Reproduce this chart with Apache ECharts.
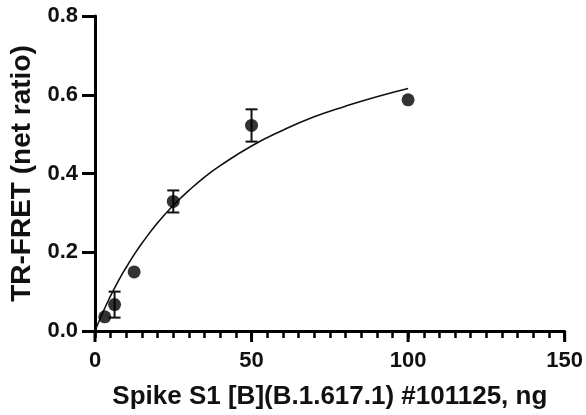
<!DOCTYPE html>
<html>
<head>
<meta charset="utf-8">
<script src="https://cdn.jsdelivr.net/npm/echarts@6/dist/echarts.min.js"></script>
<style>html,body{margin:0;padding:0;background:#fff}#c{width:586px;height:415px}</style>
</head>
<body>
<div id="c"></div>
<script>
// Measured points (mean, SD)
var doseX = [3.125, 6.25, 12.5, 25, 50, 100];
var meanY = [0.036, 0.067, 0.150, 0.329, 0.522, 0.587];
var errY  = [0.000, 0.033, 0.000, 0.028, 0.041, 0.000];
// Fitted curve
var curveX = [0, 2, 4, 6, 8, 10, 12.5, 15, 20, 25, 30, 35, 40, 50, 60, 70, 80, 90, 100];
var curveY = [0, 0.038, 0.073, 0.105, 0.135, 0.162, 0.194, 0.223, 0.275, 0.319, 0.357, 0.391, 0.420, 0.470, 0.510, 0.544, 0.571, 0.595, 0.616];
// Axis ticks
var xTicks = [0, 50, 100, 150];
var xMinorStep = 5;
var yTicks = [0, 0.2, 0.4, 0.6, 0.8];

var FONT = 'Liberation Sans, Arial, sans-serif';
var chart = echarts.init(document.getElementById('c'), null, {renderer: 'canvas'});

var points = doseX.map(function (x, i) { return [x, meanY[i]]; });
var curve = curveX.map(function (x, i) { return [x, curveY[i]]; });
var bars = doseX.map(function (x, i) { return [x, meanY[i] - errY[i], meanY[i] + errY[i]]; })
  .filter(function (d) { return d[2] - d[1] > 0; });
var majorMarks = xTicks.map(function (t) { return [t, yTicks[0]]; });

var xMin = xTicks[0], xMax = xTicks[xTicks.length - 1];

chart.setOption({
  animation: false,
  grid: {left: 95, right: 21, top: 16, bottom: 82},
  xAxis: {
    type: 'value', min: xMin, max: xMax, interval: xMinorStep,
    name: 'Spike S1 [B](B.1.617.1) #101125, ng',
    nameLocation: 'middle', nameGap: 53,
    nameTextStyle: {fontFamily: FONT, fontWeight: 'bold', fontSize: 26, color: '#111'},
    axisLine: {show: true, lineStyle: {color: '#000', width: 3}},
    axisTick: {show: true, length: 7, lineStyle: {color: '#000', width: 2.5}},
    splitLine: {show: false},
    axisLabel: {margin: 19, fontFamily: FONT, fontWeight: 'bold', fontSize: 22, color: '#111',
      formatter: function (v) { return xTicks.indexOf(Math.round(v)) >= 0 ? String(Math.round(v)) : ''; }}
  },
  yAxis: {
    type: 'value', min: yTicks[0], max: yTicks[yTicks.length - 1], interval: 0.2,
    name: 'TR-FRET (net ratio)',
    nameLocation: 'middle', nameGap: 56, nameRotate: 90,
    nameTextStyle: {fontFamily: FONT, fontWeight: 'bold', fontSize: 28, color: '#111'},
    axisLine: {show: true, lineStyle: {color: '#000', width: 3}},
    axisTick: {show: true, length: 13, lineStyle: {color: '#000', width: 3}},
    splitLine: {show: false},
    axisLabel: {margin: 17, fontFamily: FONT, fontWeight: 'bold', fontSize: 22, color: '#111',
      formatter: function (v) { return v.toFixed(1); }}
  },
  series: [
    {
      // longer major x ticks, placed through the x scale
      type: 'custom', data: majorMarks, clip: false, z: 10,
      renderItem: function (params, api) {
        var p = api.coord([api.value(0), api.value(1)]);
        return {type: 'line', shape: {x1: p[0], y1: p[1], x2: p[0], y2: p[1] + 11},
          style: {stroke: '#000', lineWidth: 3}};
      }
    },
    {
      type: 'line', data: curve, smooth: true, showSymbol: false,
      lineStyle: {color: '#111', width: 1.6}, z: 2
    },
    {
      type: 'custom', data: bars, z: 3,
      renderItem: function (params, api) {
        var x = api.value(0);
        var lo = api.coord([x, api.value(1)]);
        var hi = api.coord([x, api.value(2)]);
        var w = 6;
        var st = {stroke: '#111', lineWidth: 2};
        return {type: 'group', children: [
          {type: 'line', shape: {x1: lo[0], y1: lo[1], x2: hi[0], y2: hi[1]}, style: st},
          {type: 'line', shape: {x1: lo[0] - w, y1: lo[1], x2: lo[0] + w, y2: lo[1]}, style: st},
          {type: 'line', shape: {x1: hi[0] - w, y1: hi[1], x2: hi[0] + w, y2: hi[1]}, style: st}
        ]};
      }
    },
    {
      type: 'scatter', data: points, symbol: 'circle', symbolSize: 13,
      itemStyle: {color: '#000'}, z: 4
    }
  ]
});
</script>
</body>
</html>
